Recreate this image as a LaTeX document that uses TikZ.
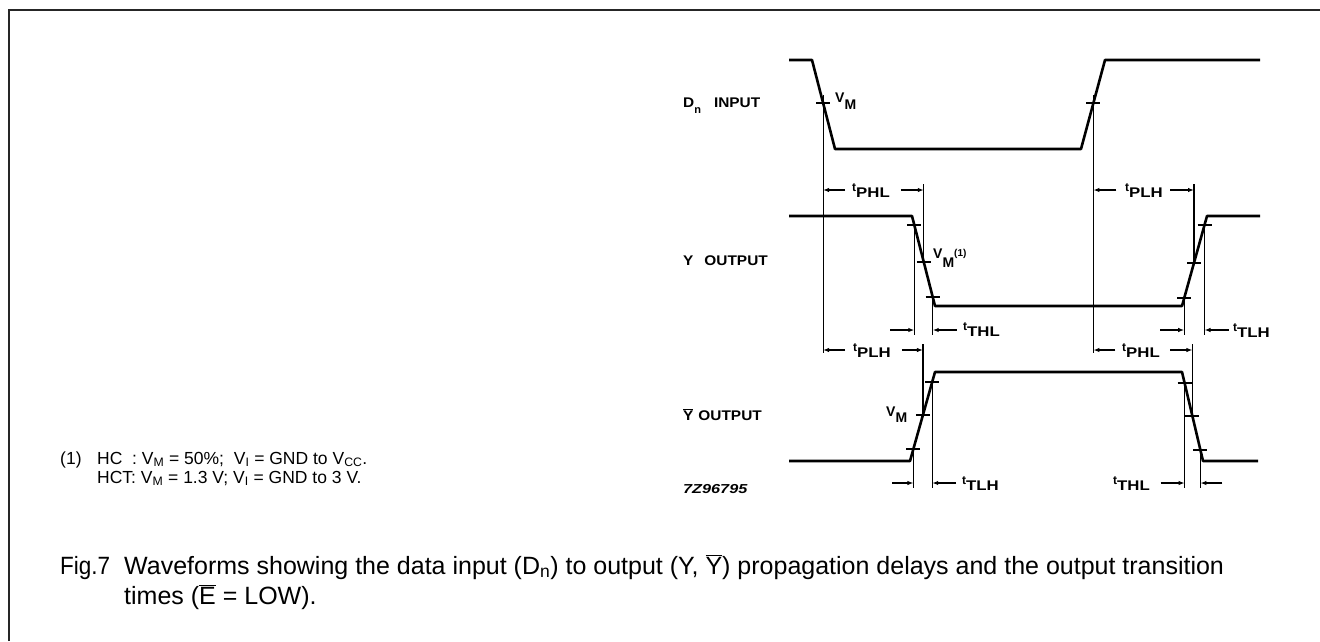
\documentclass[tikz,border=0pt]{standalone}
\usepackage{fontspec}
\usepackage{graphicx}
\setmainfont{Liberation Sans}
\usetikzlibrary{arrows.meta}
\newcommand\tsub[2]{{\fontsize{12}{12}\selectfont #1}\raisebox{-6pt}{\scalebox{1.2}[1]{#2}}}
\newcommand\wlab[1]{\scalebox{1.1}[1]{#1}}
\newcommand\ovY{$\overline{\hbox{Y}}$}
\newcommand\ovE{$\overline{\hbox{E}}$}
\begin{document}
\begin{tikzpicture}[x=1pt,y=-1pt,
  wave/.style={line width=2.6pt,line join=round},
  meas/.style={line width=1.2pt},
  tickmark/.style={line width=1.6pt},
  arr/.style={line width=1.2pt,-{Latex[length=6pt,width=4.5pt]}},
  lbl/.style={font=\fontsize{14}{14}\selectfont\bfseries,inner sep=0pt},
  fnote/.style={font=\fontsize{17.5}{17.5}\selectfont,inner sep=0pt},
  captxt/.style={font=\fontsize{25}{25}\selectfont,inner sep=0pt},
  frameline/.style={line width=2pt,black!85}
]
\useasboundingbox (0,0) rectangle (1320,641);
\draw[frameline] (9,641) -- (9,10) -- (1320,10);

% rows for measurement arrows
\coordinate (rowA) at (0,190);
\coordinate (rowB) at (0,350);
\coordinate (rowC) at (0,330);
\coordinate (rowD) at (0,483);

% D_n input
\coordinate (d0) at (789,60);
\coordinate (d1) at (812,60);
\coordinate (d2) at (835,149);
\coordinate (d3) at (1081,149);
\coordinate (d4) at (1105,60);
\coordinate (d5) at (1260,60);
\coordinate (dvf) at (823.1,103);
\coordinate (dvr) at (1093.4,103);
\draw[wave] (d0) -- (d1) -- (d2) -- (d3) -- (d4) -- (d5);

% Y output
\coordinate (y0) at (789,216);
\coordinate (y1) at (912,216);
\coordinate (y2) at (935,306);
\coordinate (y3) at (1182,306);
\coordinate (y4) at (1207,216);
\coordinate (y5) at (1260,216);
\coordinate (yf9) at (914.3,225);
\coordinate (yfm) at (923.8,262);
\coordinate (yf1) at (932.7,297);
\coordinate (yr1) at (1184.2,298);
\coordinate (yrm) at (1194,263);
\coordinate (yr9) at (1204.5,225);
\draw[wave] (y0) -- (y1) -- (y2) -- (y3) -- (y4) -- (y5);

% Y-bar output
\coordinate (b0) at (789,461);
\coordinate (b1) at (910,461);
\coordinate (b2) at (935,372);
\coordinate (b3) at (1182,372);
\coordinate (b4) at (1203,461);
\coordinate (b5) at (1258,461);
\coordinate (br1) at (913.4,449);
\coordinate (brm) at (922.9,415);
\coordinate (br9) at (932.2,382);
\coordinate (bf9) at (1184.6,383);
\coordinate (bfm) at (1192.4,416);
\coordinate (bf1) at (1200.4,450);
\draw[wave] (b0) -- (b1) -- (b2) -- (b3) -- (b4) -- (b5);

% ticks
\foreach \p in {dvf,dvr,yf9,yfm,yf1,yr1,yrm,yr9,br1,brm,br9,bf9,bfm,bf1}
  \draw[tickmark] (\p) ++(-7,0) -- ++(14,0);

% vertical measurement lines
\draw[meas] (dvf) ++(0,-8) -- (dvf |- rowB) -- ++(0,3);
\draw[meas] (dvr) ++(0,-8) -- (dvr |- rowB) -- ++(0,3);
\draw[meas] (yfm |- rowA) ++(0,-6) -- (yfm);
\draw[meas] (yrm |- rowA) ++(0,-6) -- (yrm);
\draw[meas] (yf9) -- (yf9 |- rowC) -- ++(0,5);
\draw[meas] (yf1) -- (yf1 |- rowC) -- ++(0,5);
\draw[meas] (yr1) -- (yr1 |- rowC) -- ++(0,5);
\draw[meas] (yr9) -- (yr9 |- rowC) -- ++(0,5);
\draw[meas] (brm |- rowB) ++(0,-6) -- (brm);
\draw[meas] (bfm |- rowB) ++(0,-6) -- (bfm);
\draw[meas] (br1) -- (br1 |- rowD) -- ++(0,5);
\draw[meas] (br9) -- (br9 |- rowD) -- ++(0,5);
\draw[meas] (bf9) -- (bf9 |- rowD) -- ++(0,5);
\draw[meas] (bf1) -- (bf1 |- rowD) -- ++(0,5);

% arrows row A
\draw[arr] (dvf |- rowA) ++(22,0) -- (dvf |- rowA);
\draw[arr] (yfm |- rowA) ++(-23,0) -- (yfm |- rowA);
\draw[arr] (dvr |- rowA) ++(23,0) -- (dvr |- rowA);
\draw[arr] (yrm |- rowA) ++(-24,0) -- (yrm |- rowA);
% arrows row B
\draw[arr] (dvf |- rowB) ++(22,0) -- (dvf |- rowB);
\draw[arr] (brm |- rowB) ++(-21,0) -- (brm |- rowB);
\draw[arr] (dvr |- rowB) ++(22,0) -- (dvr |- rowB);
\draw[arr] (bfm |- rowB) ++(-22,0) -- (bfm |- rowB);
% arrows row C
\draw[arr] (yf9 |- rowC) ++(-24,0) -- (yf9 |- rowC);
\draw[arr] (yf1 |- rowC) ++(24,0) -- (yf1 |- rowC);
\draw[arr] (yr1 |- rowC) ++(-24,0) -- (yr1 |- rowC);
\draw[arr] (yr9 |- rowC) ++(24,0) -- (yr9 |- rowC);
% arrows row D
\draw[arr] (br1 |- rowD) ++(-21,0) -- (br1 |- rowD);
\draw[arr] (br9 |- rowD) ++(24,0) -- (br9 |- rowD);
\draw[arr] (bf9 |- rowD) ++(-24,0) -- (bf9 |- rowD);
\draw[arr] (bf1 |- rowD) ++(22,0) -- (bf1 |- rowD);

% signal labels
\node[lbl,anchor=base west] (ldn) at (683,107) {\wlab{D}\raisebox{-6pt}{\fontsize{11}{11}\selectfont n}\hspace{13pt}\wlab{INPUT}};
\node[lbl,anchor=base west] (ly) at (683,265) {\wlab{Y}\hspace{11pt}\wlab{OUTPUT}};
\node[lbl,anchor=base west] (lyb) at (683,420) {\wlab{\ovY}\hspace{5pt}\wlab{OUTPUT}};
\node[lbl,anchor=base west,font=\fontsize{13}{13}\selectfont\bfseries\itshape] (lref) at (683,493) {\scalebox{1.25}[1]{7Z96795}};

% V_M labels
\node[lbl,anchor=base west] (vm1) at (835,102) {V\raisebox{-7pt}{M}};
\node[lbl,anchor=base west] (vm2) at (933,258) {V\raisebox{-9pt}{M}\raisebox{2pt}{\fontsize{10}{10}\selectfont(1)}};
\node[lbl,anchor=base west] (vm3) at (886,416) {V\raisebox{-6pt}{M}};

% timing labels
\node[lbl,anchor=base west] (tphlA) at (852,191) {\tsub{t}{PHL}};
\node[lbl,anchor=base west] (tplhA) at (1125,191) {\tsub{t}{PLH}};
\node[lbl,anchor=base west] (tplhB) at (853,351) {\tsub{t}{PLH}};
\node[lbl,anchor=base west] (tphlB) at (1122,351) {\tsub{t}{PHL}};
\node[lbl,anchor=base west] (tthlC) at (963,330) {\tsub{t}{THL}};
\node[lbl,anchor=base west] (ttlhC) at (1233,331) {\tsub{t}{TLH}};
\node[lbl,anchor=base west] (ttlhD) at (962,484) {\tsub{t}{TLH}};
\node[lbl,anchor=base west] (tthlD) at (1113,484) {\tsub{t}{THL}};

% footnote
\node[fnote,anchor=base west] (fn0) at (60,464) {(1)};
\node[fnote,anchor=base west] (fn1) at (97,464) {HC\ \ : V\textsubscript{M} = 50\%;\ \ V\textsubscript{I} = GND to V\textsubscript{CC}.};
\node[fnote,anchor=base west] (fn2) at (97,483) {HCT: V\textsubscript{M} = 1.3 V; V\textsubscript{I} = GND to 3 V.};

% caption
\node[captxt,anchor=base west] (cap0) at (60,574) {\scalebox{0.9}[1]{Fig.7}};
\node[captxt,anchor=base west] (cap1) at (124,574) {Waveforms showing the data input (D\textsubscript{n}) to output (Y, \ovY) propagation delays and the output transition};
\node[captxt,anchor=base west] (cap2) at (124,604) {times (\ovE\ = LOW).};
\end{tikzpicture}
\end{document}
